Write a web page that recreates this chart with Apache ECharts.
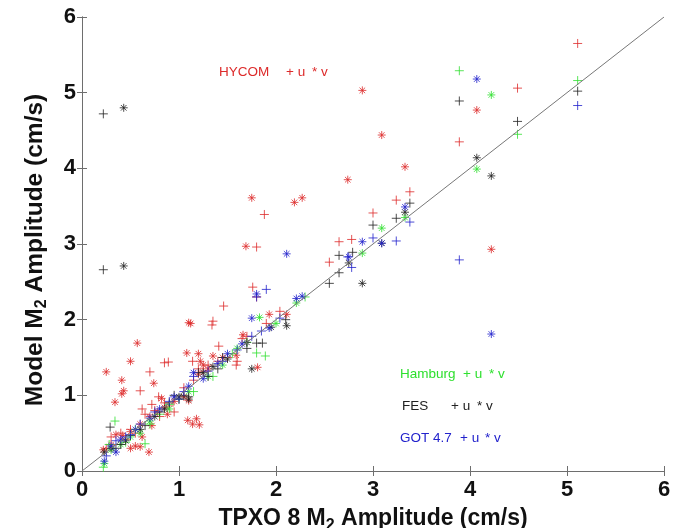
<!DOCTYPE html>
<html>
<head>
<meta charset="utf-8">
<script src="https://cdn.jsdelivr.net/npm/echarts@6/dist/echarts.min.js"></script>
<style>
  html, body { margin: 0; padding: 0; background: #fff; }
  #chart { width: 678px; height: 528px; }
</style>
</head>
<body>
<div id="chart"></div>
<script>
// axis ticks
const ticks = [0, 1, 2, 3, 4, 5, 6];

// [TPXO amplitude, model amplitude]  u -> "+", v -> "*"
const hycomU = [
  [5.11, 5.65], [4.49, 5.06], [3.89, 4.35], [3.38, 3.69], [3.24, 3.58], [3.0, 3.41],
  [2.78, 3.06], [2.65, 3.03], [2.55, 2.76], [1.88, 3.39], [1.80, 2.96], [1.76, 2.43],
  [1.80, 2.30], [1.46, 2.18], [1.35, 1.98], [1.34, 1.93], [2.04, 2.11], [0.70, 1.31],
  [0.85, 1.43], [0.89, 1.44], [1.14, 1.45], [1.41, 1.65], [0.60, 1.06], [0.79, 0.98],
  [0.95, 0.78], [1.59, 1.40], [0.30, 0.45], [0.40, 0.50], [0.50, 0.55], [0.65, 0.75],
  [0.75, 0.80], [0.85, 0.90], [0.90, 0.86], [1.00, 0.95], [1.15, 1.20], [1.20, 1.35],
  [1.30, 1.40], [1.40, 1.45], [1.50, 1.50], [1.65, 1.75], [1.70, 1.78], [1.90, 1.95],
  [0.45, 0.42], [0.55, 0.50], [0.25, 0.30], [0.80, 0.72], [1.25, 1.32], [1.60, 1.45],
  [0.72, 0.88], [0.62, 0.82], [1.05, 1.10]
];
const hycomV = [
  [2.89, 5.03], [4.07, 4.77], [3.09, 4.44], [3.33, 4.02], [2.74, 3.85], [4.22, 2.93],
  [1.75, 3.61], [2.19, 3.55], [2.27, 3.61], [1.69, 2.97], [1.10, 1.96], [1.12, 1.95],
  [0.57, 1.69], [0.50, 1.45], [0.25, 1.31], [1.08, 1.56], [1.20, 1.55], [0.41, 1.20],
  [0.43, 1.06], [0.41, 1.02], [0.34, 0.91], [0.74, 1.16], [1.09, 0.67], [1.18, 0.69],
  [1.14, 0.62], [1.21, 0.61], [0.60, 0.32], [0.55, 0.33], [0.69, 0.25], [1.81, 1.37],
  [1.93, 2.07], [2.11, 2.07], [1.66, 1.80], [1.59, 1.53], [0.22, 0.28], [0.30, 0.35],
  [0.35, 0.48], [0.42, 0.47], [0.50, 0.52], [0.60, 0.62], [0.70, 0.72], [0.78, 0.78],
  [0.85, 0.84], [0.95, 0.92], [1.05, 0.98], [1.10, 0.93], [1.20, 1.28], [1.25, 1.40],
  [1.30, 1.35], [1.45, 1.50], [0.88, 0.75], [0.72, 0.60], [0.82, 0.96], [0.50, 0.30],
  [0.62, 0.45], [1.22, 1.45], [1.35, 1.52]
];
const hamburgU = [
  [3.89, 5.29], [5.11, 5.16], [4.49, 4.45], [1.80, 1.56], [1.89, 1.52], [0.22, 0.05],
  [0.65, 0.36], [0.34, 0.66], [0.45, 0.38], [0.80, 0.75], [1.00, 0.95], [1.15, 1.05],
  [1.35, 1.25], [1.55, 1.55], [2.30, 2.30], [0.55, 0.55], [0.90, 0.88], [0.70, 0.62],
  [1.70, 1.70], [0.28, 0.35]
];
const hamburgV = [
  [4.22, 4.97], [4.07, 3.99], [3.33, 3.35], [3.09, 3.21], [2.89, 2.88], [2.21, 2.22],
  [1.83, 2.03], [0.23, 0.10], [0.30, 0.28], [0.50, 0.45], [0.70, 0.66], [1.10, 1.05],
  [1.30, 1.25], [1.45, 1.40], [2.00, 1.95], [0.60, 0.50], [0.90, 0.82], [1.60, 1.62],
  [0.40, 0.35]
];
const fesU = [
  [0.22, 4.72], [0.22, 2.66], [5.11, 5.02], [3.89, 4.89], [4.49, 4.62], [3.38, 3.54],
  [3.24, 3.34], [3.00, 3.25], [2.79, 2.89], [2.65, 2.85], [2.55, 2.48], [1.80, 1.69],
  [1.86, 1.69], [0.29, 0.58], [0.40, 0.35], [0.50, 0.47], [0.65, 0.60], [0.80, 0.78],
  [0.95, 1.00], [1.05, 1.00], [1.20, 1.30], [1.30, 1.25], [1.40, 1.35], [1.45, 1.50],
  [1.70, 1.62], [2.10, 2.00], [0.35, 0.30], [1.10, 0.98], [0.90, 0.90], [2.65, 2.62]
];
const fesV = [
  [0.43, 4.80], [0.43, 2.71], [4.07, 4.14], [4.22, 3.90], [3.33, 3.42], [3.09, 3.01],
  [2.75, 2.75], [2.89, 2.48], [2.11, 1.92], [1.75, 1.35], [0.23, 0.25], [0.30, 0.30],
  [0.45, 0.40], [0.60, 0.55], [0.85, 0.82], [1.00, 0.98], [1.10, 0.95], [1.25, 1.30],
  [1.35, 1.38], [1.50, 1.48], [1.70, 1.70], [1.95, 1.90], [0.75, 0.72]
];
const gotU = [
  [5.11, 4.83], [3.89, 2.79], [3.38, 3.29], [3.24, 3.04], [3.00, 3.08], [2.78, 2.69],
  [2.74, 2.83], [1.90, 2.40], [1.80, 2.30], [2.04, 2.02], [0.25, 0.20], [0.35, 0.40],
  [0.45, 0.45], [0.60, 0.62], [0.75, 0.78], [0.90, 0.92], [1.05, 1.05], [1.15, 1.25],
  [1.30, 1.32], [1.45, 1.45], [1.60, 1.60], [1.75, 1.78], [1.85, 1.85], [0.50, 0.48],
  [1.00, 0.95]
];
const gotV = [
  [4.07, 5.18], [4.22, 1.81], [3.33, 3.49], [3.09, 3.01], [2.89, 3.03], [2.11, 2.87],
  [1.80, 2.34], [1.75, 2.02], [1.93, 1.89], [2.21, 2.28], [2.27, 2.31], [2.75, 2.83],
  [0.23, 0.13], [0.30, 0.33], [0.40, 0.42], [0.55, 0.55], [0.70, 0.70], [0.80, 0.82],
  [0.95, 0.98], [1.10, 1.12], [1.15, 1.30], [1.25, 1.22], [1.40, 1.42], [1.50, 1.55],
  [1.65, 1.68], [0.35, 0.25]
];
const oneToOne = [[0, 0], [6, 6]];

const RED = "#dd2a2a";
const GREEN = "#2fe02f";
const BLACK = "#222222";
const BLUE = "#2222cc";
const PLUS = "path://M0,5L10,5M5,0L5,10";
const STAR = "path://M0,5L10,5M5,0L5,10M1.5,1.5L8.5,8.5M8.5,1.5L1.5,8.5";

function marks(data, color, symbol, size) {
  return {
    type: "scatter",
    data: data,
    symbol: symbol,
    symbolSize: size,
    itemStyle: { color: "rgba(0,0,0,0)", borderColor: color, borderWidth: 1 },
    emphasis: { disabled: true },
    silent: true,
  };
}

const axisLine = { lineStyle: { color: "#6e6e6e", width: 1 } };
const axisFont = { color: "#111", fontFamily: "Liberation Sans", fontWeight: "bold", fontSize: 22 };
function titleRich(size) {
  return {
    a: { fontFamily: "Liberation Sans", fontWeight: "bold", fontSize: size, color: "#111" },
    s: { fontFamily: "Liberation Sans", fontWeight: "bold", fontSize: 16, color: "#111", padding: [14, 0, 0, 0] },
  };
}
const note = "13.5px Liberation Sans";

const myChart = echarts.init(document.getElementById("chart"));
myChart.setOption({
  animation: false,
  backgroundColor: "#fff",
  grid: { left: 82, right: 14, top: 17, bottom: 57, outerBoundsMode: "none", containLabel: false },
  xAxis: [
    {
      type: "value", min: ticks[0], max: ticks[ticks.length - 1], interval: 1,
      axisLine: axisLine,
      axisTick: { inside: true, length: 5, lineStyle: { color: "#6e6e6e" } },
      axisLabel: Object.assign({ margin: 8 }, axisFont),
      splitLine: { show: false },
      name: "{a|TPXO 8 M}{s|2}{a| Amplitude (cm/s)}",
      nameLocation: "middle",
      nameGap: 33,
      nameTextStyle: { rich: titleRich(23) },
    },
    {
      type: "value", position: "top", min: 0, max: 6, interval: 1,
      axisLine: axisLine,
      axisTick: { inside: true, length: 5, lineStyle: { color: "#6e6e6e" } },
      axisLabel: { show: false },
      splitLine: { show: false },
    },
  ],
  yAxis: [
    {
      type: "value", min: ticks[0], max: ticks[ticks.length - 1], interval: 1,
      axisLine: axisLine,
      axisTick: { inside: true, length: 5, lineStyle: { color: "#6e6e6e" } },
      axisLabel: Object.assign({ margin: 6 }, axisFont),
      splitLine: { show: false },
      name: "{a|Model M}{s|2}{a| Amplitude (cm/s)}",
      nameLocation: "middle",
      nameGap: 32,
      nameRotate: 90,
      nameTextStyle: { rich: titleRich(24.5), padding: [0, 12, 0, 0] },
    },
    {
      type: "value", position: "right", min: 0, max: 6, interval: 1,
      axisLine: axisLine,
      axisTick: { inside: true, length: 5, lineStyle: { color: "#6e6e6e" } },
      axisLabel: { show: false },
      splitLine: { show: false },
    },
  ],
  series: [
    {
      type: "line", data: oneToOne, symbol: "none", silent: true,
      lineStyle: { color: "#777", width: 1 },
    },
    marks(hycomU, RED, PLUS, 9),
    marks(hycomV, RED, STAR, 8),
    marks(hamburgU, GREEN, PLUS, 9),
    marks(hamburgV, GREEN, STAR, 8),
    marks(fesU, BLACK, PLUS, 9),
    marks(fesV, BLACK, STAR, 8),
    marks(gotU, BLUE, PLUS, 9),
    marks(gotV, BLUE, STAR, 8),
  ],
  graphic: [
    { type: "text", left: 219, top: 65, style: { text: "HYCOM", fill: RED, font: note } },
    { type: "text", left: 286, top: 65, style: { text: "+ u", fill: RED, font: note } },
    { type: "text", left: 312, top: 65, style: { text: "* v", fill: RED, font: note } },
    { type: "text", left: 400, top: 367, style: { text: "Hamburg", fill: GREEN, font: note } },
    { type: "text", left: 463, top: 367, style: { text: "+ u", fill: GREEN, font: note } },
    { type: "text", left: 489, top: 367, style: { text: "* v", fill: GREEN, font: note } },
    { type: "text", left: 402, top: 399, style: { text: "FES", fill: BLACK, font: note } },
    { type: "text", left: 451, top: 399, style: { text: "+ u", fill: BLACK, font: note } },
    { type: "text", left: 477, top: 399, style: { text: "* v", fill: BLACK, font: note } },
    { type: "text", left: 400, top: 431, style: { text: "GOT 4.7", fill: BLUE, font: note } },
    { type: "text", left: 460, top: 431, style: { text: "+ u", fill: BLUE, font: note } },
    { type: "text", left: 485, top: 431, style: { text: "* v", fill: BLUE, font: note } },
  ],
});
</script>
</body>
</html>
